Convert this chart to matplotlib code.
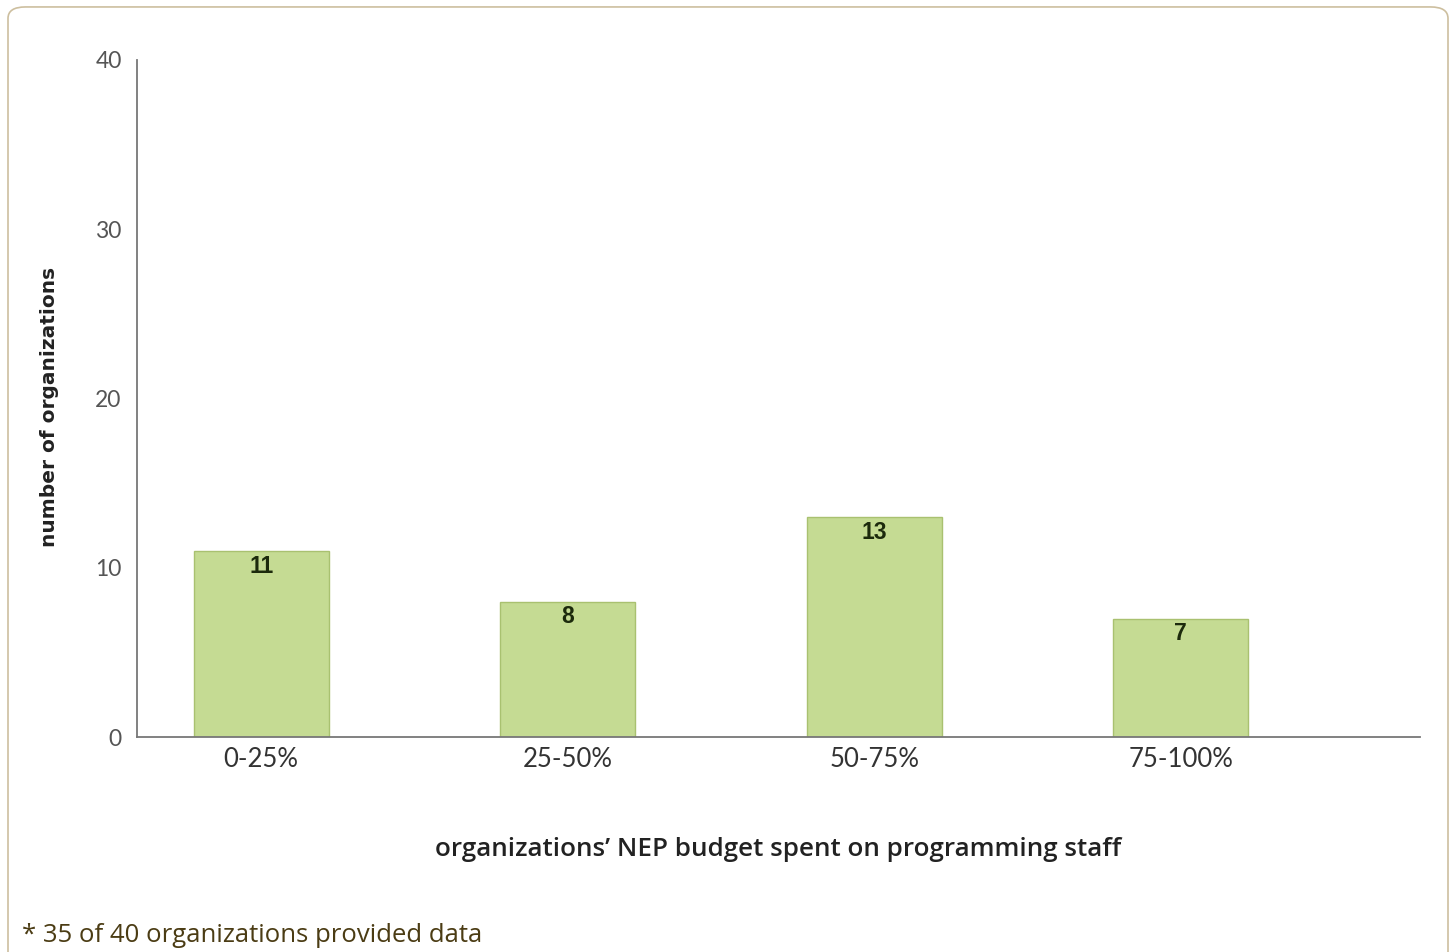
import numpy as np
import matplotlib.pyplot as plt
from matplotlib.patches import FancyBboxPatch

# ----------------------------------------------------------------------------
# Dados
# ----------------------------------------------------------------------------
categories = ['0-25%', '25-50%', '50-75%', '75-100%']
counts = [11, 8, 13, 7]
yticks = [0, 10, 20, 30, 40]

BAR_COLOR = '#c5db93'
EDGE_COLOR = '#a9c170'

plt.rcParams['font.family'] = ['Lato', 'DejaVu Sans']

fig = plt.figure(figsize=(14.54, 9.52), dpi=100)
fig.patch.set_facecolor('white')

# moldura arredondada (sem preenchimento, por baixo do grafico)
box = FancyBboxPatch((8 / 1454, -0.05), 1440 / 1454, 1.05 - 6 / 952 - 0.001,
                     boxstyle='round,pad=0,rounding_size=0.012',
                     transform=fig.transFigure, facecolor='none',
                     edgecolor='#cdbf9f', linewidth=1.2, zorder=-1)
fig.patches.append(box)

ax = fig.add_axes([137 / 1454, 1 - 737 / 952, (1420 - 137) / 1454, (737 - 60) / 952])
ax.set_facecolor('none')

x = np.arange(len(categories))
bars = ax.bar(x, counts, width=0.44, color=BAR_COLOR, edgecolor=EDGE_COLOR,
              linewidth=1.0, zorder=2)

# rotulos dentro das barras
for b, v in zip(bars, counts):
    ax.text(b.get_x() + b.get_width() / 2, v - 0.9, str(v), ha='center',
            va='center', fontsize=16.5, fontweight='bold', color='#1c2a0c',
            family=['Liberation Sans', 'DejaVu Sans'], zorder=3)

ax.set_xlim(-0.405, 3.78)
ax.set_ylim(0, 40)

ax.set_xticks(x)
ax.set_xticklabels(categories, fontsize=18.5, color='#333333')
ax.set_yticks(yticks)
ax.set_yticklabels(yticks, fontsize=16.5, color='#555555')
ax.tick_params(axis='both', length=0)
ax.tick_params(axis='x', pad=7)
ax.tick_params(axis='y', pad=11)

for s in ['top', 'right']:
    ax.spines[s].set_visible(False)
for s in ['left', 'bottom']:
    ax.spines[s].set_color('#777777')
    ax.spines[s].set_linewidth(1.3)

ax.set_ylabel('number of organizations', fontsize=14.5, fontweight='bold',
              color='#222222', family=['DejaVu Sans'])
ax.yaxis.set_label_coords(-0.061, 0.488)
ax.set_xlabel('organizations\u2019 NEP budget spent on programming staff',
              fontsize=18.7, fontweight='semibold', color='#222222',
              family=['Open Sans', 'DejaVu Sans'])
ax.xaxis.set_label_coords(0.5, -0.148)

fig.text(22 / 1454, 1 - 935 / 952, '* 35 of 40 organizations provided data',
         fontsize=18.5, color='#4b3c14', ha='left', va='center',
         family=['Open Sans', 'DejaVu Sans'])

fig.savefig('out.png', dpi=100)
